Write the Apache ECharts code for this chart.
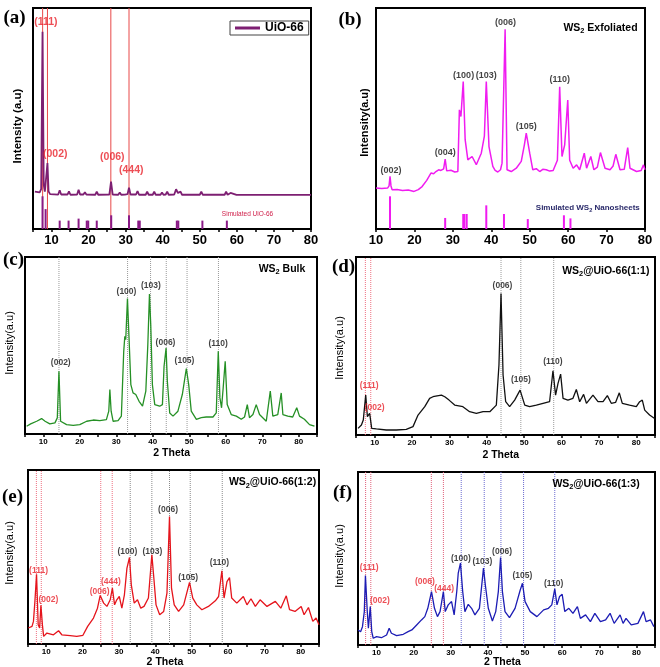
<!DOCTYPE html>
<html><head><meta charset="utf-8">
<script src="https://cdn.jsdelivr.net/npm/echarts@6/dist/echarts.min.js"></script>
<style>html,body{margin:0;padding:0;background:#fff}#c{width:660px;height:667px}</style>
</head><body><div id="c"></div>
<script>
// ---------- tick labels ----------
const thetaTickLabels = [10, 20, 30, 40, 50, 60, 70, 80];

// ---------- (a) UiO-66 ----------
const uioPattern = [[5.5,16.9],[6.8,16.6],[7.2,18],[7.57,89.3],[7.9,20],[8.2,16.9],[8.6,17.5],[8.9,29.8],[9.2,17],[9.6,15.8],[11.8,15.6],[12.2,17.5],[12.6,15.6],[14.3,15.6],[14.7,17.0],[15.1,15.5],[16.9,15.6],[17.3,17.8],[17.7,15.6],[18.6,15.6],[19.0,16.6],[19.4,15.6],[21.8,15.5],[22.2,16.9],[22.6,15.5],[25.6,15.6],[26.05,21.4],[26.5,15.6],[28.0,15.5],[28.4,16.5],[28.8,15.5],[29.8,15.6],[30.2,16.5],[30.5,15.8],[30.9,18.7],[31.3,15.6],[32.8,15.6],[33.2,17.2],[33.6,15.5],[35.4,15.5],[35.8,16.9],[36.2,15.5],[37.3,15.5],[37.7,16.9],[38.1,15.5],[39.4,15.5],[39.8,16.5],[40.2,15.5],[40.8,15.6],[41.2,16.9],[41.6,15.5],[43.1,15.6],[43.6,18.0],[44.1,16.3],[44.8,16.9],[45.2,15.5],[50.0,15.5],[50.4,16.9],[50.8,15.5],[51.8,15.5],[52.2,16.3],[52.6,15.5],[56.7,15.5],[57.1,16.9],[57.5,15.5],[57.9,15.5],[58.3,16.3],[58.7,15.4],[59.9,15.4],[60.3,16.0],[60.7,15.4],[62.2,15.4],[62.6,16.0],[63.0,15.4],[63.5,15.9],[63.9,15.4],[67.6,15.4],[68,15.8],[68.4,15.4],[80,15.4]];
const uioSticks = [[7.57,14.8],[8.4,9.0],[12.2,3.8],[14.6,3.8],[17.3,4.7],[19.5,3.8],[19.9,3.8],[22.2,3.8],[26.1,6.2],[30.9,6.2],[33.4,3.8],[33.8,3.8],[43.8,3.8],[44.2,3.8],[50.7,3.8],[57.3,3.8]];
const uioRefLines = [7.6, 8.9, 26.0, 30.9];
const uioLabels = [[8.46,93.7,'(111)'],[11.0,33.9,'(002)'],[26.4,32.6,'(006)'],[31.5,26.7,'(444)']];

// ---------- (b) WS2 exfoliated ----------
const exfPattern = [[10.0,18.5],[11.5,18.3],[13.0,18.5],[13.4,19.5],[13.65,23.8],[13.9,19.5],[14.2,17.8],[15.5,17.9],[16.9,17.4],[18.4,17.6],[19.9,17.0],[21.0,17.8],[22.0,19.2],[23.2,22.0],[24.3,25.3],[25.0,25.0],[25.6,26.0],[26.3,26.8],[26.9,26.5],[27.6,27.2],[28.0,31.6],[28.4,26.3],[29.5,26.6],[30.5,25.8],[31.3,26.0],[31.7,53.9],[32.1,50.9],[32.7,66.7],[33.2,40.4],[33.9,31.3],[35.0,32.8],[36.1,29.1],[37.4,34.3],[38.2,42],[38.7,66.7],[39.4,37.3],[40.4,28.3],[41.0,26.5],[41.7,25.8],[42.4,26.8],[42.8,29.8],[43.6,90.4],[44.1,26.8],[45.2,26.0],[46.5,27.5],[47.8,30.6],[48.6,38],[49.1,43.4],[50.0,34.3],[50.8,26.8],[51.7,27.3],[52.6,26.0],[53.4,27.0],[54.3,26.8],[55.2,26.2],[56.1,26.5],[57.2,31.1],[57.8,64.4],[58.4,32.8],[59.1,38.1],[59.9,58.4],[60.4,31.1],[61.3,27.5],[62.2,29.0],[63.0,26.8],[64.2,34.3],[64.8,27.5],[65.9,32.8],[66.7,26.8],[67.6,28],[68.4,34.6],[69.6,27.5],[70.9,26.8],[71.7,28.5],[72.4,33.8],[73.5,26.8],[74.6,27],[75.5,36.8],[76.1,27.5],[77.8,26.0],[79.0,26.5],[79.6,29.0],[80.0,26.8]];
const exfSticks = [[13.65,14.8],[28.0,5.0],[32.7,6.8],[33.0,6.8],[33.6,6.8],[38.7,10.7],[43.3,6.8],[49.5,4.5],[58.9,6.2],[60.6,4.8]];
const exfLabels = [[13.9,26.5,'(002)'],[28.0,34.6,'(004)'],[32.8,69.3,'(100)'],[38.7,69.3,'(103)'],[43.7,93.4,'(006)'],[49.1,46.4,'(105)'],[57.8,67.8,'(110)']];

// ---------- (c) WS2 bulk ----------
const bulkPattern = [[5.45,4.4],[6.55,5.7],[8.2,7.2],[9.55,8.7],[10.5,7.2],[11.8,5.7],[13.2,6.3],[13.85,9.1],[14.3,35.5],[14.75,7.2],[16.4,5.3],[18.2,4.9],[20.0,5.3],[21.9,7.2],[23.7,7.9],[25.5,7.5],[27.3,8.1],[27.95,12.9],[28.25,25.1],[28.6,12.9],[29.15,7.2],[30.5,7.5],[31.4,10.1],[32.05,46.7],[32.35,55.2],[32.6,53.3],[33.07,76.5],[33.5,54.3],[34.0,27.9],[34.6,23.2],[35.35,22.3],[36.25,18.5],[37.2,15.7],[38.1,24.2],[38.65,50.5],[39.1,79.1],[39.45,61.8],[39.9,27.9],[40.55,16.6],[41.9,15.7],[42.65,16.6],[43.1,38.3],[43.65,48.6],[44.0,29.8],[44.65,11.9],[45.55,10.1],[46.9,12.9],[48.1,22.3],[49.2,37.0],[49.85,27.9],[50.55,12.9],[51.95,8.3],[53.3,9.2],[54.65,9.6],[56.5,9.6],[57.4,11.9],[57.95,46.7],[58.4,20.4],[58.85,14.8],[59.3,26.1],[59.85,41.1],[60.4,16.6],[61.5,11.0],[62.9,10.1],[64.25,8.3],[65.15,9.6],[65.9,16.6],[66.5,9.2],[67.45,11.0],[68.35,16.6],[69.25,11.0],[71.1,7.2],[72.2,24.2],[72.9,10.1],[74.25,11.0],[75.2,23.2],[75.65,11.0],[77.0,10.1],[78.35,9.6],[79.45,14.8],[80.2,10.1],[81.55,8.3],[82.95,5.3],[84.3,4.4]];
const bulkRefLines = [14.3, 33.1, 39.4, 43.7, 49.4, 58.0];
const bulkLabels = [[14.8,40.5,'(002)'],[32.8,80.6,'(100)'],[39.5,83.8,'(103)'],[43.5,51.8,'(006)'],[48.7,41.5,'(105)'],[57.9,51.1,'(110)']];

// ---------- (d) WS2@UiO-66 (1:1) ----------
const c11Pattern = [[5.55,3.7],[6.45,5.6],[6.95,8.4],[7.6,22.4],[8.05,10.3],[8.65,12.2],[9.2,3.7],[10.45,3.4],[13.1,2.8],[15.8,2.8],[18.45,3.2],[20.25,4.7],[21.6,11.2],[23.4,15.9],[24.7,20.6],[25.6,21.5],[26.7,22.0],[27.85,22.4],[28.75,21.5],[29.9,19.6],[31.4,16.8],[33.6,15.9],[35.4,13.1],[37.2,12.2],[39.0,13.1],[40.8,13.1],[42.55,16.8],[43.25,39.3],[43.8,79.5],[44.35,33.7],[45.05,18.7],[46.1,15.9],[47.45,19.6],[48.9,25.2],[50.15,16.8],[51.45,15.9],[53.25,16.8],[55.05,17.8],[56.8,18.7],[57.7,36.1],[58.4,22.4],[59.05,29.0],[59.75,34.2],[60.4,20.6],[61.7,19.6],[63.05,20.6],[63.95,25.6],[64.85,18.7],[65.9,22.8],[66.65,17.8],[68.4,22.4],[69.75,18.7],[71.1,18.7],[72.25,22.1],[73.3,17.8],[74.45,18.3],[75.45,23.7],[76.25,17.8],[78.2,16.8],[80.0,15.9],[80.9,18.7],[81.6,19.6],[82.25,14.0],[83.55,11.2],[84.9,9.3]];
const c11UioLines = [7.5, 8.95];
const c11Ws2Lines = [43.8, 49.1, 57.9];
const c11UioLabels = [[8.5,28.0,'(111)'],[10.0,15.3,'(002)']];
const c11Ws2Labels = [[44.2,84.1,'(006)'],[49.1,31.2,'(105)'],[57.7,41.1,'(110)']];

// ---------- (e) WS2@UiO-66 (1:2) ----------
const c12Pattern = [[5.1,9.2],[6.1,10.1],[6.5,13.0],[6.9,24.5],[7.35,40.1],[7.8,11.1],[8.2,9.2],[8.55,22.2],[9.0,10.1],[9.3,4.4],[10.2,6.3],[12.0,5.3],[13.4,7.6],[14.3,5.3],[16.6,4.8],[18.4,4.4],[20.1,5.0],[21.4,10.1],[23.0,14.9],[24.1,20.6],[24.85,27.9],[25.8,23.5],[26.7,21.6],[27.6,25.4],[28.2,32.1],[28.8,22.5],[29.4,25.4],[30.1,27.3],[30.8,20.6],[31.5,28.3],[32.2,43.6],[32.55,42.6],[32.9,49.7],[33.4,34.0],[34.2,23.5],[35.1,25.4],[36.0,20.6],[36.9,21.6],[38.1,26.4],[39.05,51.2],[39.6,37.8],[40.2,22.5],[41.2,16.8],[42.3,18.7],[43.2,29.2],[43.9,73.2],[44.45,32.1],[45.2,22.5],[46.4,18.7],[47.8,22.5],[49.4,35.4],[50.3,26.4],[51.4,22.5],[52.8,19.7],[54.6,21.6],[56.5,24.8],[57.4,27.3],[58.3,42.1],[58.9,26.4],[59.7,35.9],[60.4,38.2],[61.0,26.4],[62.4,23.5],[64.2,27.3],[65.2,22.5],[66.3,26.0],[67.5,21.6],[68.8,25.4],[70.7,21.6],[73.0,24.5],[74.5,20.6],[76.0,27.7],[76.9,19.7],[78.4,18.7],[80.1,21.6],[80.9,16.8],[82.1,21.0],[83.3,13.0],[84.2,14.9],[85.0,11.1]];
const c12UioLines = [7.3, 8.65, 25.0, 28.15];
const c12Ws2Lines = [33.1, 39.05, 43.9, 49.6, 58.4];
const c12UioLabels = [[7.9,42.2,'(111)'],[10.6,25.4,'(002)'],[24.7,30.2,'(006)'],[27.8,35.9,'(444)']];
const c12Ws2Labels = [[32.3,52.8,'(100)'],[39.2,52.8,'(103)'],[43.5,77.0,'(006)'],[49.0,37.9,'(105)'],[57.6,46.5,'(110)']];

// ---------- (f) WS2@UiO-66 (1:3) ----------
const c13Pattern = [[5.05,8.7],[5.7,7.7],[6.2,10.6],[6.7,19.3],[7.0,40.1],[7.5,19.3],[7.8,9.7],[8.3,22.2],[8.7,7.7],[9.1,3.9],[10.0,4.8],[11.3,4.2],[12.7,5.8],[13.4,9.7],[14.0,6.8],[15.4,5.4],[17.2,6.2],[18.5,7.7],[19.5,8.7],[20.8,11.6],[22.1,14.5],[23.0,16.4],[23.8,21.2],[24.8,30.9],[25.6,21.2],[26.4,16.4],[27.1,19.3],[28.0,30.9],[28.5,19.3],[29.3,23.2],[30.2,25.1],[30.9,17.4],[31.6,30.9],[32.0,41.5],[32.6,47.3],[33.2,30.9],[33.8,19.3],[34.7,23.5],[35.6,21.2],[36.5,17.4],[37.7,21.2],[38.8,44.4],[39.3,34.7],[40.1,21.2],[41.2,13.9],[42.1,19.3],[42.8,30.9],[43.4,50.6],[43.9,30.9],[44.6,19.3],[45.8,15.8],[47.3,21.2],[48.7,31.8],[49.3,35.7],[50.0,25.1],[51.4,19.3],[53.2,16.4],[55.0,20.3],[56.3,21.2],[57.2,23.2],[58.0,32.4],[58.6,23.2],[59.3,28.0],[60.0,29.3],[60.7,19.3],[61.8,21.2],[62.9,18.3],[64.1,22.2],[64.9,15.4],[66.3,17.4],[67.6,13.5],[68.8,18.3],[70.3,13.5],[71.7,14.5],[72.9,18.3],[74.0,12.5],[75.6,17.4],[76.4,12.5],[77.2,15.4],[78.6,11.6],[80.4,12.5],[81.9,19.3],[82.6,13.5],[83.8,14.5],[84.7,10.6]];
const c13UioLines = [7.05, 8.45, 24.75, 28.0];
const c13Ws2Lines = [32.8, 39.0, 43.5, 49.6, 58.0];
const c13UioLabels = [[8.0,44.8,'(111)'],[10.9,25.5,'(002)'],[23.0,36.7,'(006)'],[28.2,32.4,'(444)']];
const c13Ws2Labels = [[32.7,49.8,'(100)'],[38.5,48.2,'(103)'],[43.8,54.0,'(006)'],[49.3,40.0,'(105)'],[57.7,35.7,'(110)']];

// ---------- build ----------
const FF = '"Liberation Sans", Arial, sans-serif';
const RED = '#e8232c';

const grids = [
  {left:33, top:8, width:278, height:221},
  {left:376, top:8, width:269, height:221},
  {left:25, top:257, width:292, height:177},
  {left:356, top:257, width:299, height:178},
  {left:28, top:470, width:291, height:174},
  {left:358, top:472, width:297, height:173}
].map(g => Object.assign({show:true, borderColor:'#000', borderWidth:2, backgroundColor:'transparent'}, g));

function xAx(gi, min, max, interval, fontSize, margin) {
  return {type:'value', gridIndex:gi, min, max, interval,
    axisLine:{show:false}, splitLine:{show:false},
    axisTick:{show:true, inside:false, length:3, lineStyle:{color:'#000', width:1.5}},
    axisLabel:{fontFamily:FF, fontWeight:'bold', fontSize, color:'#000', margin,
      formatter: v => thetaTickLabels.includes(v) ? String(v) : ''}};
}
function yAx(gi) { return {type:'value', gridIndex:gi, min:0, max:100, show:false}; }

function lineS(gi, data, color, width, name) {
  return {type:'line', name, xAxisIndex:gi, yAxisIndex:gi, data, symbol:'none', silent:true,
    color, lineStyle:{color, width}, itemStyle:{color}, z:3};
}
// each reference line is its own two-point vertical line spanning the full y range
function refS(gi, xs, color, type) {
  return xs.map(x => ({type:'line', xAxisIndex:gi, yAxisIndex:gi, silent:true, symbol:'none', z:1,
    color, data:[[x, 0], [x, 100]], lineStyle:{color, type, width:1}, itemStyle:{color}}));
}
function stickS(gi, data, color) {
  return {type:'bar', xAxisIndex:gi, yAxisIndex:gi, data, barWidth:2, silent:true,
    itemStyle:{color}, z:2};
}
function labelS(gi, arr, color, fontSize) {
  return {type:'scatter', xAxisIndex:gi, yAxisIndex:gi, silent:true, symbolSize:1,
    itemStyle:{color:'transparent'}, z:6,
    data: arr.map(d => ({value:[d[0], d[1]], name:d[2]})),
    label:{show:true, position:'inside', formatter:'{b}', color, fontWeight:'bold', fontSize, fontFamily:FF}};
}

const series = [].concat(
  refS(0, uioRefLines, '#e84848', 'solid'),
  [stickS(0, uioSticks, '#8a1a86'),
   lineS(0, uioPattern, '#7d1f72', 1.8, 'UiO-66'),
   labelS(0, uioLabels, RED, 10.5),
   stickS(1, exfSticks, '#f01af0'),
   lineS(1, exfPattern, '#f01cf0', 1.5),
   labelS(1, exfLabels, '#111', 9)],

  refS(2, bulkRefLines, '#9a9a9a', 'dotted'),
  [lineS(2, bulkPattern, '#259025', 1.3),
   labelS(2, bulkLabels, '#111', 8.5)],

  refS(3, c11UioLines, '#ee6f80', 'dotted'),
  refS(3, c11Ws2Lines, '#9a9a9a', 'dotted'),
  [lineS(3, c11Pattern, '#111', 1.3),
   labelS(3, c11UioLabels, RED, 8.5),
   labelS(3, c11Ws2Labels, '#111', 8.5)],

  refS(4, c12UioLines, '#ee6f80', 'dotted'),
  refS(4, c12Ws2Lines, '#8a8a8a', 'dotted'),
  [lineS(4, c12Pattern, '#e5141c', 1.3),
   labelS(4, c12UioLabels, RED, 8.5),
   labelS(4, c12Ws2Labels, '#111', 8.5)],

  refS(5, c13UioLines, '#e0607a', 'dotted'),
  refS(5, c13Ws2Lines, '#6a6ad0', 'dotted'),
  [lineS(5, c13Pattern, '#1c1cb4', 1.3),
   labelS(5, c13UioLabels, RED, 8.5),
   labelS(5, c13Ws2Labels, '#111', 8.5)]
);

function txt(x, y, text, font, fill, rotation) {
  return {type:'text', x, y, rotation: rotation || 0, silent:true, z:10,
    style:{text, font, fill: fill || '#000', align:'center', verticalAlign:'middle',
      textAlign:'center', textVerticalAlign:'middle'}};
}
// WS2 titles with a real subscript
function ws2(x, y, before, rest, size, fill) {
  const c = fill || '#000';
  return {type:'text', x, y, silent:true, z:10,
    style:{text:'{n|' + before + 'WS}{s|2}{n|' + rest + '}', fill:c, align:'center', verticalAlign:'middle',
      textAlign:'center', textVerticalAlign:'middle',
      rich:{
        n:{fontFamily:FF, fontWeight:'bold', fontSize:size, lineHeight:size + 3, fill:c, color:c},
        s:{fontFamily:FF, fontWeight:'bold', fontSize:size * 0.7, lineHeight:size * 0.7 + 1, verticalAlign:'bottom', fill:c, color:c}
      }}};
}
const LET = 'bold 19px "Liberation Serif", "Times New Roman", serif';
const R90 = Math.PI / 2;
const graphic = [
  txt(14.5, 18, '(a)', LET), txt(350, 20, '(b)', LET), txt(13.5, 260, '(c)', LET),
  txt(343.5, 267, '(d)', LET), txt(12.5, 497, '(e)', LET), txt(342.5, 493, '(f)', LET),
  txt(17.7, 126, 'Intensity (a.u)', 'bold 11.5px ' + FF, '#000', R90),
  txt(365, 122.5, 'Intensity(a.u)', 'bold 11px ' + FF, '#000', R90),
  txt(10, 343, 'Intensity(a.u)', '11px ' + FF, '#000', R90),
  txt(340, 348, 'Intensity(a.u)', '11px ' + FF, '#000', R90),
  txt(10, 553, 'Intensity(a.u)', '11px ' + FF, '#000', R90),
  txt(340, 556, 'Intensity(a.u)', '11px ' + FF, '#000', R90),
  ws2(600.5, 28, '', ' Exfoliated', 10.5),
  ws2(282, 269, '', ' Bulk', 10.5),
  ws2(605.8, 271, '', '@UiO-66(1:1)', 10.5),
  ws2(272.5, 482.5, '', '@UiO-66(1:2)', 10.5),
  ws2(596, 484, '', '@UiO-66(1:3)', 10.5),
  ws2(587.8, 207.5, 'Simulated ', ' Nanosheets', 8, '#2b2b6b'),
  txt(247.5, 214, 'Simulated UiO-66', '6.5px ' + FF, '#d0204a'),
  txt(171.7, 453.3, '2 Theta', 'bold 10.5px ' + FF),
  txt(500.8, 455, '2 Theta', 'bold 10.5px ' + FF),
  txt(165, 662.3, '2 Theta', 'bold 10.5px ' + FF),
  txt(502.5, 662.3, '2 Theta', 'bold 10.5px ' + FF)
];

const option = {
  animation:false,
  backgroundColor:'#fff',
  textStyle:{fontFamily:FF},
  grid: grids,
  xAxis: [
    xAx(0, 5, 80, 5, 13, 5), xAx(1, 10, 80, 10, 13, 5),
    xAx(2, 5, 85, 5, 8, 4), xAx(3, 5, 85, 5, 8, 4),
    xAx(4, 5, 85, 5, 8, 4), xAx(5, 5, 85, 5, 8, 4)
  ],
  yAxis: [0,1,2,3,4,5].map(yAx),
  legend: {data:['UiO-66'], left:230, top:21, padding:[1,5], itemWidth:25, itemHeight:3, icon:'rect',
    borderColor:'#444', borderWidth:1, selectedMode:false,
    textStyle:{fontFamily:FF, fontWeight:'bold', fontSize:12, color:'#000'}},
  series,
  graphic
};
const chart = echarts.init(document.getElementById('c'), null, {renderer:'canvas'});
chart.setOption(option);
</script></body></html>
